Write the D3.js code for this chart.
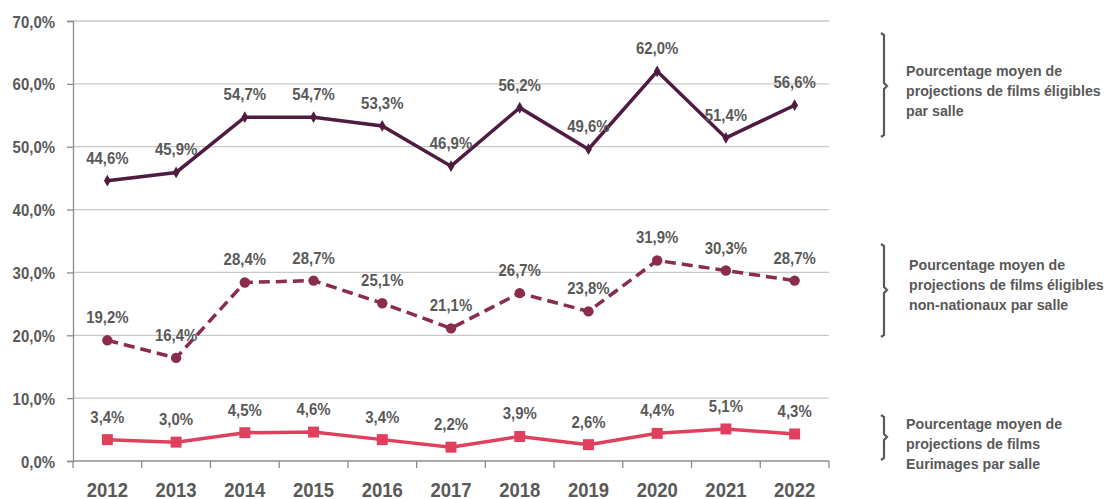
<!DOCTYPE html>
<html>
<head>
<meta charset="utf-8">
<script src="https://cdn.jsdelivr.net/npm/d3@7"></script>
<style>
  body { margin: 0; background: #fff; }
  text { font-family: "Liberation Sans", Arial, sans-serif; font-weight: bold; fill: #595959; }
</style>
</head>
<body>
<svg id="chart" width="1112" height="499"></svg>
<script>
const years = ["2012", "2013", "2014", "2015", "2016", "2017", "2018", "2019", "2020", "2021", "2022"];
const eligibles = [44.6, 45.9, 54.7, 54.7, 53.3, 46.9, 56.2, 49.6, 62.0, 51.4, 56.6];
const nonNationaux = [19.2, 16.4, 28.4, 28.7, 25.1, 21.1, 26.7, 23.8, 31.9, 30.3, 28.7];
const eurimages = [3.4, 3.0, 4.5, 4.6, 3.4, 2.2, 3.9, 2.6, 4.4, 5.1, 4.3];
const yTicks = [0, 10, 20, 30, 40, 50, 60, 70];
const legendLines = [
    ["Pourcentage moyen de", "projections de films éligibles", "par salle"],
    ["Pourcentage moyen de", "projections de films éligibles", "non-nationaux par salle"],
    ["Pourcentage moyen de", "projections de films", "Eurimages par salle"]
];

const margin = { top: 21, left: 73, right: 283, bottom: 38 };
const width = 1112 - margin.left - margin.right;
const height = 499 - margin.top - margin.bottom;
const narrow = 0.88; // condensed look of the original font

const svg = d3.select("#chart");
const g = svg.append("g").attr("transform", `translate(${margin.left},${margin.top})`);

const x = d3.scaleBand().domain(years).range([0, width]);
const y = d3.scaleLinear().domain([0, 70]).range([height, 0]);
const fmt = v => v.toFixed(1).replace(".", ",") + "%";

// gridlines
g.selectAll(".grid")
    .data(yTicks.filter(d => d > 0))
    .join("line")
    .attr("x1", 0).attr("x2", width)
    .attr("y1", d => y(d)).attr("y2", d => y(d))
    .attr("stroke", "#c8c8c8").attr("stroke-width", 1.3);

// y axis
const yAxis = g.append("g")
    .call(d3.axisLeft(y).tickValues(yTicks).tickFormat(fmt).tickSize(6).tickPadding(0));
yAxis.select(".domain").attr("stroke", "#8c8c8c").attr("stroke-width", 1.3);
yAxis.selectAll(".tick line").attr("stroke", "#8c8c8c").attr("stroke-width", 1.3);
yAxis.selectAll("text")
    .attr("x", 0).attr("dy", null)
    .attr("transform", `translate(-18,6) scale(${narrow},1)`)
    .style("font-size", "17px").attr("fill", "#595959");

// x axis with ticks between categories
const xAxis = g.append("g").attr("transform", `translate(0,${height})`);
xAxis.append("line").attr("x1", 0).attr("x2", width)
    .attr("stroke", "#8c8c8c").attr("stroke-width", 1.3);
xAxis.selectAll(".xt")
    .data(d3.range(years.length + 1))
    .join("line")
    .attr("x1", i => i * x.step()).attr("x2", i => i * x.step())
    .attr("y1", 0).attr("y2", 7)
    .attr("stroke", "#8c8c8c").attr("stroke-width", 1.3);
xAxis.selectAll(".xl")
    .data(years)
    .join("text")
    .attr("transform", d => `translate(${x(d) + x.bandwidth() / 2},36) scale(${narrow},1)`)
    .attr("text-anchor", "middle")
    .style("font-size", "21px")
    .text(d => d);

const cx = d => x(d) + x.bandwidth() / 2;
const line = d3.line().x(d => cx(d.year)).y(d => y(d.value));
const asPoints = vals => years.map((yr, i) => ({ year: yr, value: vals[i] }));

const series = [
    { values: eligibles, color: "#4f1b40", dash: null, marker: "diamond" },
    { values: nonNationaux, color: "#8a2c4e", dash: "11,6", marker: "circle" },
    { values: eurimages, color: "#e03f5e", dash: null, marker: "square" }
];

series.forEach(s => {
    const pts = asPoints(s.values);
    g.append("path")
        .datum(pts)
        .attr("d", line)
        .attr("fill", "none")
        .attr("stroke", s.color)
        .attr("stroke-width", 3.5)
        .attr("stroke-dasharray", s.dash);

    const sym = s.marker === "diamond" ? d3.symbolDiamond : s.marker === "circle" ? d3.symbolCircle : d3.symbolSquare;
    const size = s.marker === "diamond" ? 40 : s.marker === "circle" ? 85 : 120;
    g.selectAll(null)
        .data(pts)
        .join("path")
        .attr("transform", d => `translate(${cx(d.year)},${y(d.value)})`)
        .attr("d", d3.symbol().type(sym).size(size))
        .attr("fill", s.color);

    g.selectAll(null)
        .data(pts)
        .join("text")
        .attr("transform", d => `translate(${cx(d.year)},${y(d.value) - 17}) scale(${narrow},1)`)
        .attr("text-anchor", "middle")
        .style("font-size", "17px")
        .text(d => fmt(d.value));
});

// legend brackets
const brackets = [
    { top: 33, bottom: 137, mid: 86, textX: 906, textY: 76 },
    { top: 244, bottom: 337, mid: 290, textX: 909, textY: 270 },
    { top: 415, bottom: 460, mid: 437, textX: 906, textY: 429 }
];
brackets.forEach((b, i) => {
    const bx = 884;
    svg.append("path")
        .attr("d", `M${bx - 3},${b.top} L${bx},${b.top + 2} L${bx},${b.mid - 3} L${bx + 3},${b.mid} L${bx},${b.mid + 3} L${bx},${b.bottom - 2} L${bx - 3},${b.bottom}`)
        .attr("fill", "none")
        .attr("stroke", "#595959")
        .attr("stroke-width", 2.2);
    const t = svg.append("text")
        .attr("x", b.textX)
        .attr("y", b.textY)
        .style("font-size", "14.2px");
    legendLines[i].forEach((ln, j) => {
        t.append("tspan").attr("x", b.textX).attr("dy", j === 0 ? 0 : 20).text(ln);
    });
});
</script>
</body>
</html>
